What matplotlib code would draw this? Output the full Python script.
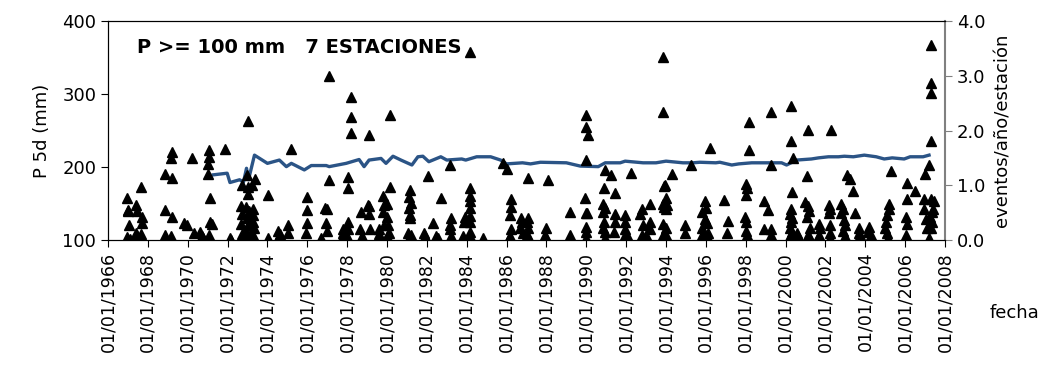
import matplotlib
matplotlib.use('Agg')
from matplotlib import pyplot as plt

# eventos con P 5d >= 100 mm (fecha en años decimales, valor en mm)
evento_fecha = [
    1966.95, 1966.98, 1967.02, 1967.05, 1966.97, 1967.08,
    1967.40, 1967.44, 1967.38, 1967.46,
    1967.68, 1967.70, 1967.72, 1967.66,
    1968.86, 1968.84, 1968.88,
    1969.19, 1969.17, 1969.21, 1969.19, 1969.15,
    1969.83, 1969.95,
    1970.20, 1970.30,
    1970.62, 1970.70, 1970.78, 1970.66,
    1971.07, 1971.07, 1971.04, 1971.04, 1971.10, 1971.12, 1971.20, 1971.08,
    1971.87,
    1972.12, 1972.16,
    1972.70, 1972.68, 1972.72, 1972.66, 1972.74, 1972.70,
    1973.04, 1972.95, 1973.05, 1973.00, 1972.92, 1973.08, 1972.98, 1973.02, 1972.90, 1973.06, 1972.96,
    1973.38, 1973.25, 1973.30, 1973.28, 1973.30, 1973.32, 1973.28,
    1974.01, 1974.03,
    1974.55, 1974.65, 1974.60,
    1975.05, 1975.03,
    1975.20,
    1975.97, 1975.97, 1975.97, 1975.95,
    1976.70,
    1976.90, 1977.00, 1976.92, 1976.98,
    1977.10, 1977.10,
    1977.80, 1977.78, 1977.84, 1977.74,
    1978.03, 1978.03, 1978.03, 1978.03, 1978.00,
    1978.19, 1978.19, 1978.19,
    1978.70, 1978.66, 1978.74,
    1979.10, 1979.05, 1979.08, 1979.12, 1979.14,
    1979.58, 1979.62, 1979.55,
    1979.80, 1979.83, 1979.78, 1979.85,
    1980.15, 1980.15, 1979.98, 1979.98, 1980.05, 1980.10, 1980.02,
    1981.15, 1981.12, 1981.18, 1981.10, 1981.15, 1981.14, 1981.05, 1981.20, 1981.12,
    1981.85, 1981.92, 1981.90,
    1982.07, 1982.30,
    1982.45, 1982.55,
    1982.70,
    1983.16, 1983.20, 1983.14, 1983.18, 1983.22,
    1983.90, 1983.85, 1983.80,
    1984.16, 1984.16, 1984.16, 1984.16, 1984.16, 1984.16, 1984.16, 1984.14, 1984.18,
    1984.80,
    1985.80, 1986.00,
    1986.20, 1986.20, 1986.18, 1986.20, 1986.18, 1986.10,
    1986.70, 1986.78, 1986.65, 1986.82,
    1987.10, 1987.08, 1987.02, 1987.10, 1987.02, 1987.12,
    1988.10, 1988.00, 1987.95, 1988.00,
    1989.20, 1989.18,
    1989.93,
    1990.00, 1990.00, 1990.10, 1990.00, 1989.97, 1990.05, 1989.97, 1990.00, 1990.00,
    1990.94, 1990.90, 1990.85, 1990.95, 1990.82, 1990.88, 1990.82, 1990.95, 1990.95,
    1991.24,
    1991.44, 1991.44, 1991.44, 1991.40,
    1991.95, 1991.95, 1991.95, 1991.95, 1992.02,
    1992.24,
    1992.70, 1992.78, 1992.86, 1992.78,
    1993.20, 1993.22, 1993.20, 1993.00,
    1993.87, 1993.87, 1993.90, 1993.87, 1993.92, 1993.87, 1993.85,
    1994.28, 1993.95, 1994.02, 1994.05, 1993.98, 1994.00, 1994.02,
    1994.95, 1994.95,
    1995.25,
    1995.95, 1996.00, 1995.80, 1995.98, 1996.05, 1995.80, 1996.10, 1995.82, 1996.10,
    1996.20,
    1996.90,
    1997.10, 1997.05,
    1998.00, 1998.05, 1998.00, 1997.95, 1998.00, 1998.00, 1998.05,
    1998.17, 1998.17,
    1998.90, 1998.90,
    1999.10, 1999.27, 1999.27, 1999.27,
    1999.27, 1999.27,
    2000.27, 2000.27, 2000.30, 2000.25, 2000.20, 2000.30, 2000.25, 2000.20, 2000.30, 2000.25, 2000.15,
    2000.36,
    2000.55, 2000.62, 2000.68,
    2001.14, 2001.10, 2000.95, 2001.14, 2001.18, 2001.10, 2001.22, 2001.14, 2001.25,
    2001.70, 2001.72, 2001.68, 2001.65,
    2002.28, 2002.18, 2002.22, 2002.18, 2002.25, 2002.22, 2002.25,
    2002.80, 2002.86, 2002.76, 2002.92, 2002.96, 2002.86, 2002.96,
    2003.06,
    2003.23,
    2003.40, 2003.50,
    2003.68, 2003.68, 2003.75,
    2004.20, 2004.15, 2004.30,
    2005.20, 2005.18, 2005.10, 2005.05, 2004.98, 2005.10, 2005.12,
    2005.29,
    2006.07, 2006.07, 2006.05, 2006.08, 2006.03, 2006.05,
    2006.50,
    2007.00,
    2007.20,
    2007.30, 2007.30, 2007.30, 2007.30, 2007.30, 2007.45, 2007.38, 2007.35, 2007.25, 2007.35, 2007.30, 2007.20,
    2006.95, 2006.97, 2007.05, 2007.10,
]
evento_p5d = [
    157, 141, 140, 120, 104, 102,
    148, 140, 110, 106,
    173, 132, 123, 108,
    191, 141, 107,
    221, 212, 185, 132, 105,
    123, 120,
    212, 109,
    111, 106, 103, 101,
    223, 214, 204, 191, 158, 125, 122, 107,
    224,
    103, 100,
    175, 146, 136, 122, 108, 103,
    263, 189, 172, 163, 145, 140, 130, 120, 112, 105, 101,
    184, 176, 143, 134, 125, 116, 107,
    162, 103,
    112, 108, 105,
    121, 110,
    225,
    159, 141, 123, 110,
    103,
    144, 142, 123, 113,
    324, 182,
    115, 110, 105, 103,
    186, 171, 125, 115, 105,
    296, 269, 247,
    139, 115, 105,
    244, 148, 146, 136, 115,
    115, 108, 102,
    160, 148, 139, 120,
    271, 173, 149, 131, 120, 110, 105,
    168, 159, 151, 144, 134, 130, 110, 107, 103,
    110, 105, 103,
    187, 123,
    105, 103,
    157,
    203, 130, 120, 115, 105,
    132, 125, 105,
    358, 171, 160, 153, 144, 133, 124, 111, 105,
    103,
    206, 197,
    156, 145, 134, 115, 105, 103,
    130, 125, 117, 110,
    185, 130, 125, 117, 107, 103,
    182, 117, 107, 103,
    139, 107,
    157,
    271, 255, 244, 210, 137, 137, 118, 111, 103,
    196, 171, 149, 144, 138, 125, 117, 111, 103,
    189,
    164, 136, 124, 111,
    134, 124, 115, 107, 107,
    192,
    135, 142, 121, 107,
    150, 124, 115, 107,
    351, 276, 174, 150, 145, 122, 107,
    191, 175, 157, 148, 143, 116, 107,
    121, 110,
    203,
    154, 144, 138, 129, 123, 116, 110, 107, 103,
    226,
    155,
    126, 110,
    177, 171, 162, 132, 124, 113, 107,
    261, 223,
    154, 115,
    141, 115, 107, 103,
    275, 203,
    283, 235, 166, 143, 135, 130, 124, 116, 111, 107, 103,
    212,
    110, 105, 102,
    251, 187, 152, 147, 140, 131, 116, 107, 103,
    122, 116, 107, 103,
    251, 148, 143, 137, 121, 110, 103,
    150, 143, 137, 128, 120, 112, 105,
    189,
    184,
    167, 137,
    116, 110, 107,
    118, 111, 107,
    150, 143, 134, 125, 116, 110, 103,
    195,
    178, 156, 131, 122, 107, 103,
    167,
    191,
    203,
    367, 315, 301, 236, 156, 154, 143, 139, 131, 124, 116, 103,
    156, 143, 129, 116,
]

# tasa de eventos/año/estación
linea_fecha = [1971.28, 1971.98, 1972.12, 1972.60, 1972.80, 1972.95, 1973.05, 1973.35,
               1974.00, 1974.60, 1974.95, 1975.20, 1975.85, 1976.20, 1976.95, 1977.10,
               1977.95, 1978.60, 1978.85, 1979.10, 1979.70, 1979.95, 1980.30, 1980.70,
               1981.25, 1981.55, 1981.80, 1982.10, 1982.70, 1983.00, 1983.75, 1983.95,
               1984.50, 1985.20, 1985.70, 1986.00, 1986.80, 1987.20, 1987.70, 1989.00,
               1989.70, 1990.60, 1990.95, 1991.70, 1991.95, 1992.85, 1993.50, 1994.00,
               1994.85, 1995.35, 1995.70, 1996.50, 1996.70, 1997.30, 1997.65, 1998.30,
               1998.80, 1999.45, 1999.80, 2000.05, 2000.55, 2001.30, 2001.65, 2002.15,
               2002.65, 2002.95, 2003.40, 2003.95, 2004.55, 2004.95, 2005.35, 2005.95,
               2006.25, 2006.90, 2007.20]
linea_tasa = [1.19, 1.22, 1.05, 1.10, 1.06, 1.31, 1.10, 1.55,
              1.40, 1.46, 1.34, 1.40, 1.28, 1.36, 1.36, 1.34,
              1.40, 1.47, 1.34, 1.46, 1.49, 1.40, 1.53, 1.46,
              1.37, 1.52, 1.53, 1.43, 1.52, 1.46, 1.48, 1.46,
              1.52, 1.52, 1.46, 1.39, 1.41, 1.39, 1.42, 1.41,
              1.35, 1.34, 1.41, 1.41, 1.44, 1.41, 1.41, 1.44,
              1.41, 1.41, 1.42, 1.41, 1.42, 1.37, 1.39, 1.41,
              1.41, 1.41, 1.41, 1.37, 1.46, 1.48, 1.50, 1.52,
              1.52, 1.53, 1.52, 1.55, 1.52, 1.48, 1.50, 1.48,
              1.52, 1.52, 1.55]

anios_ticks = list(range(1966, 2009, 2))
etiquetas_x = ['01/01/{a}'.format(a=a) for a in anios_ticks]

plt.rcParams['font.family'] = ['DejaVu Sans']

fig = plt.figure(figsize=(10.44, 3.70), dpi=100)
ax = fig.add_axes([108 / 1044, 1 - 240 / 370, 837 / 1044, 219 / 370])
ax2 = ax.twinx()

ax.plot(evento_fecha, evento_p5d, linestyle='none', marker='^', color='black',
        markersize=6.5, zorder=3)
ax2.plot(linea_fecha, linea_tasa, color='#2b5486', linewidth=2.4, zorder=2)
ax.set_zorder(ax2.get_zorder() + 1)
ax.patch.set_visible(False)

ax.set_xlim(1966, 2008)
ax.set_ylim(100, 400)
ax2.set_ylim(0, 4)
ax.set_xticks(anios_ticks)
ax.set_xticklabels(etiquetas_x, rotation=90, fontsize=12.5)
ax.set_yticks([100, 200, 300, 400])
ax.tick_params(axis='y', labelsize=13, length=5, direction='out')
ax.tick_params(axis='x', length=5, direction='out')
ax2.set_yticks([0, 1, 2, 3, 4])
ax2.set_yticklabels(['0.0', '1.0', '2.0', '3.0', '4.0'])
ax2.tick_params(axis='y', labelsize=13, length=5, direction='out', color='#808080')

for s in ['left', 'bottom', 'top']:
    ax.spines[s].set_color('black')
    ax2.spines[s].set_color('black')
ax.spines['right'].set_visible(False)
ax2.spines['right'].set_color('#808080')
ax2.spines['right'].set_linewidth(1.5)

ax.set_ylabel('P 5d (mm)', fontsize=13, labelpad=8)
ax2.set_ylabel('eventos/año/estación', fontsize=13, labelpad=6)
fig.text(990 / 1044, 1 - 313 / 370, 'fecha', fontsize=13, ha='left', va='center')
ax.text(0.035, 0.877, 'P >= 100 mm   7 ESTACIONES', transform=ax.transAxes,
        fontsize=14, fontweight='bold', ha='left', va='center')

fig.savefig('out.png', dpi=100)
